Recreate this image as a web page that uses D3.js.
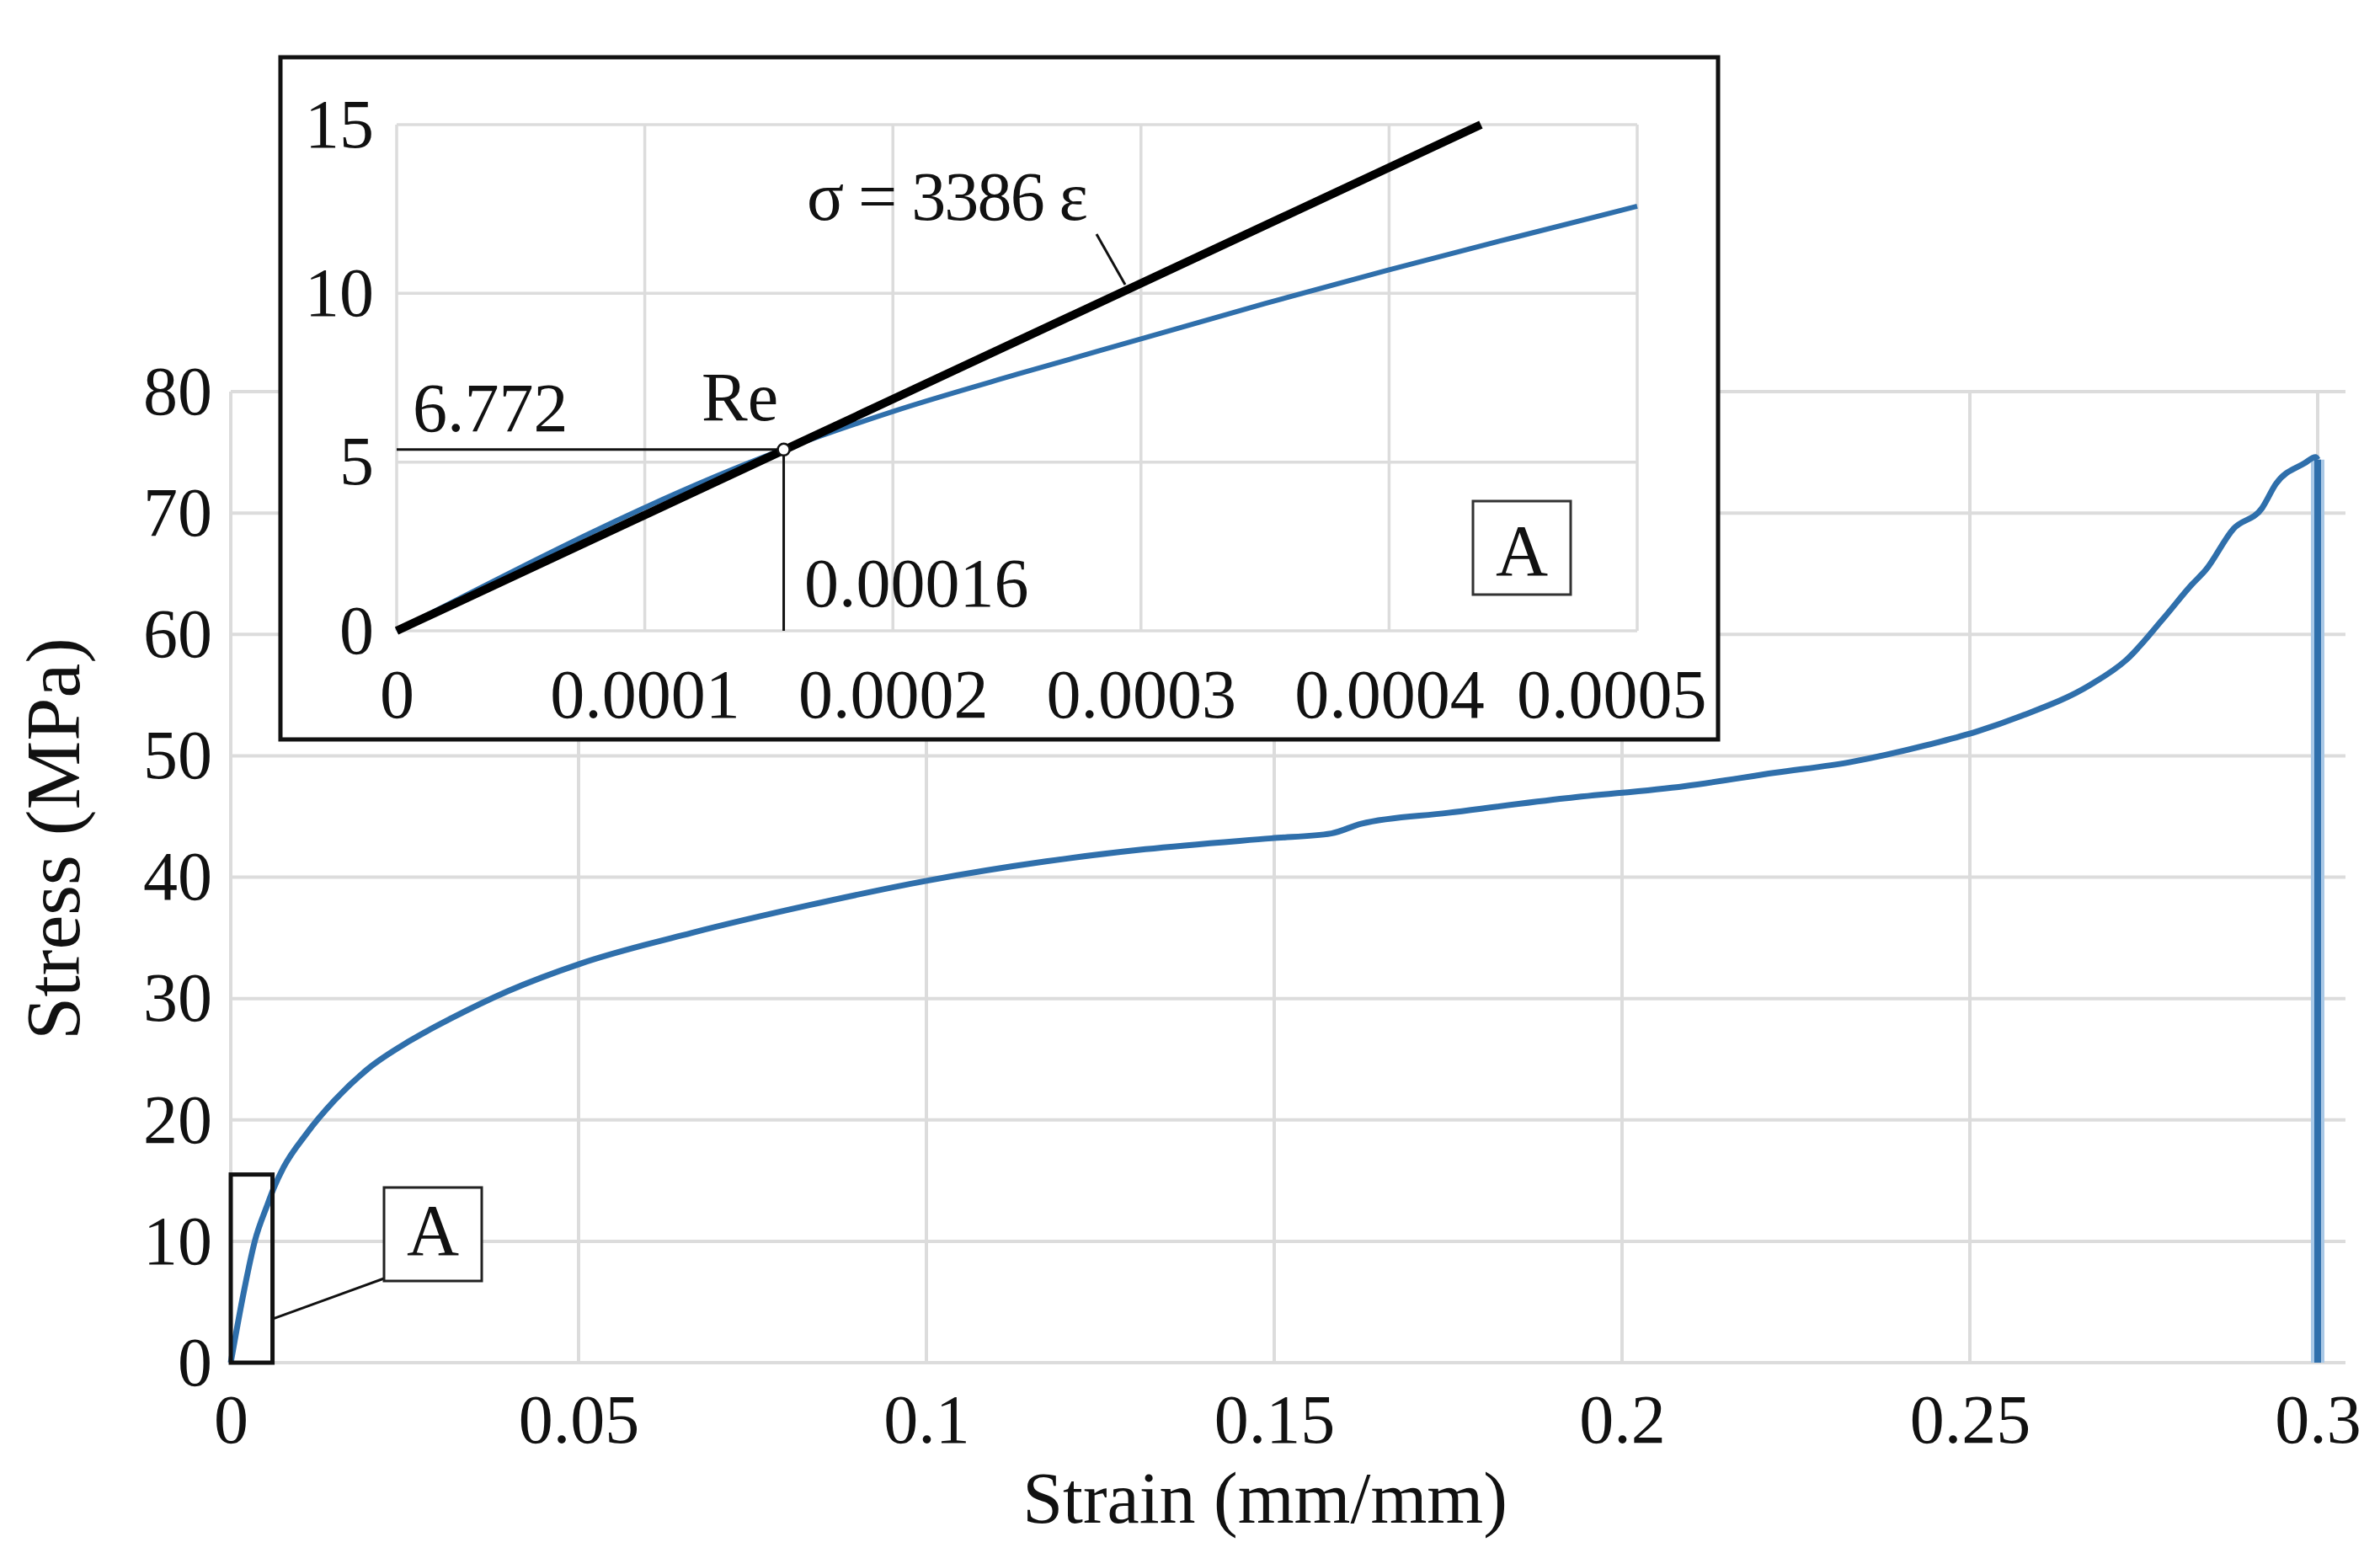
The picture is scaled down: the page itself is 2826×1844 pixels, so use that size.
<!DOCTYPE html>
<html>
<head>
<meta charset="utf-8">
<script src="https://cdn.jsdelivr.net/npm/d3@7"></script>
<style>
body { margin: 0; background: #fff; }
text { font-family: "Liberation Serif", "Times New Roman", serif; fill: #111; }
</style>
</head>
<body>
<svg width="2826" height="1844"></svg>
<script>
// main curve: strain (mm/mm), stress (MPa)
var strain = [0, 0.0019, 0.0035, 0.0052, 0.0062, 0.0076, 0.0108, 0.0149, 0.0197, 0.0257, 0.0318, 0.0398, 0.0504,
  0.0662, 0.0832, 0.1, 0.1172, 0.1315,
  0.1496, 0.1582, 0.1625, 0.175, 0.192, 0.209, 0.222, 0.233, 0.2453, 0.251, 0.2575, 0.2672, 0.2725, 0.2778,
  0.2819, 0.2839, 0.2879, 0.292, 0.294, 0.2981, 0.2997, 0.3, 0.3];
var stress = [0, 5.9, 10.1, 12.9, 14.4, 16.1, 18.8, 21.6, 24.2, 26.5, 28.4, 30.6, 32.9,
  35.4, 37.7, 39.7, 41.3, 42.3,
  43.2, 43.6, 44.4, 45.3, 46.5, 47.5, 48.6, 49.5, 51.1, 52.0, 53.3, 55.8, 57.9, 61.3,
  64.1, 65.3, 68.7, 70.4, 72.4, 74.1, 74.6, 74.4, 0];

var xTicks = [0, 0.05, 0.1, 0.15, 0.2, 0.25, 0.3];
var yTicks = [0, 10, 20, 30, 40, 50, 60, 70, 80];

// inset "A": elastic zone
var insetStrain = [0, 0.000155, 0.0002, 0.00025, 0.0003, 0.00035, 0.0004, 0.00045, 0.0005];
var insetStress = [0, 5.35, 6.5, 7.6, 8.65, 9.7, 10.7, 11.65, 12.58];
var fitStrain = [0, 0.000437];
var fitStress = [0, 15];
var rePoint = [0.000156, 5.37];
var insetXTicks = [0, 0.0001, 0.0002, 0.0003, 0.0004, 0.0005];
var insetYTicks = [0, 5, 10, 15];
var zoomBox = [0, 0.006, 0, 15.5]; // x0, x1, y0, y1 of box A on the main chart

var blue = "#2f6fab", grid = "#dcdcdc";

var svg = d3.select("svg");

// ---------- main chart ----------
var x = d3.scaleLinear().domain([0, 0.3]).range([274, 2752]);
var y = d3.scaleLinear().domain([0, 80]).range([1618, 465]);

var g = svg.append("g");

g.selectAll(".hgrid").data(yTicks).enter().append("line")
  .attr("x1", x(0)).attr("x2", 2785)
  .attr("y1", function(d) { return y(d); }).attr("y2", function(d) { return y(d); })
  .attr("stroke", grid).attr("stroke-width", 4);

g.selectAll(".vgrid").data(xTicks).enter().append("line")
  .attr("x1", function(d) { return x(d); }).attr("x2", function(d) { return x(d); })
  .attr("y1", y(80)).attr("y2", y(0))
  .attr("stroke", grid).attr("stroke-width", 4);

var xAxis = g.append("g").attr("transform", "translate(0," + y(0) + ")")
  .call(d3.axisBottom(x).tickValues(xTicks).tickFormat(function(d) { return String(d); }).tickSize(0).tickPadding(37));
var yAxis = g.append("g").attr("transform", "translate(" + x(0) + ",0)")
  .call(d3.axisLeft(y).tickValues(yTicks).tickSize(0).tickPadding(22));
[xAxis, yAxis].forEach(function(a) {
  a.select(".domain").remove();
  a.selectAll("text").attr("font-size", 82).attr("font-family", null).attr("fill", "#111");
});

var mainData = strain.map(function(s, i) { return [s, stress[i]]; });
var rise = mainData.slice(0, -1);   // up to fracture
var drop = mainData.slice(-2);      // vertical drop at fracture
var line = d3.line().x(function(d) { return x(d[0]); }).y(function(d) { return y(d[1]); });

g.append("path").datum(drop)
  .attr("d", line).attr("fill", "none")
  .attr("stroke", "#a9c8e6").attr("stroke-width", 16);
g.append("path").datum(drop)
  .attr("d", line).attr("fill", "none")
  .attr("stroke", blue).attr("stroke-width", 8);
g.append("path").datum(rise)
  .attr("d", line.curve(d3.curveMonotoneX)).attr("fill", "none")
  .attr("stroke", blue).attr("stroke-width", 7).attr("stroke-linejoin", "round");

// box A on main chart + leader + label
g.append("rect")
  .attr("x", x(zoomBox[0])).attr("y", y(zoomBox[3]))
  .attr("width", x(zoomBox[1]) - x(zoomBox[0])).attr("height", y(zoomBox[2]) - y(zoomBox[3]))
  .attr("fill", "none").attr("stroke", "#111").attr("stroke-width", 5);
g.append("line")
  .attr("x1", x(zoomBox[1])).attr("y1", y(3.6))
  .attr("x2", 456).attr("y2", 1518)
  .attr("stroke", "#111").attr("stroke-width", 3);
g.append("rect").attr("x", 456).attr("y", 1410).attr("width", 116).attr("height", 111)
  .attr("fill", "#fff").attr("stroke", "#222").attr("stroke-width", 3);
g.append("text").attr("x", 514).attr("y", 1490).attr("text-anchor", "middle")
  .attr("font-size", 86).text("A");

// axis titles
g.append("text").attr("x", 1502).attr("y", 1808).attr("text-anchor", "middle")
  .attr("font-size", 86).text("Strain (mm/mm)");
g.append("text").attr("transform", "translate(94,996) rotate(-90)").attr("text-anchor", "middle")
  .attr("font-size", 92).text("Stress (MPa)");

// ---------- inset ----------
var ins = svg.append("g");
ins.append("rect").attr("x", 333).attr("y", 68).attr("width", 1707).attr("height", 810)
  .attr("fill", "#fff").attr("stroke", "#111").attr("stroke-width", 5);

var ix = d3.scaleLinear().domain([0, 0.0005]).range([471, 1944]);
var iy = d3.scaleLinear().domain([0, 15]).range([749, 148]);

ins.selectAll(".ihgrid").data(insetYTicks).enter().append("line")
  .attr("x1", ix(0)).attr("x2", ix(0.0005))
  .attr("y1", function(d) { return iy(d); }).attr("y2", function(d) { return iy(d); })
  .attr("stroke", grid).attr("stroke-width", 3.5);
ins.selectAll(".ivgrid").data(insetXTicks).enter().append("line")
  .attr("x1", function(d) { return ix(d); }).attr("x2", function(d) { return ix(d); })
  .attr("y1", iy(15)).attr("y2", iy(0))
  .attr("stroke", grid).attr("stroke-width", 3.5);

var ixAxis = ins.append("g").attr("transform", "translate(0," + iy(0) + ")")
  .call(d3.axisBottom(ix).tickValues(insetXTicks).tickFormat(function(d) { return String(d); }).tickSize(0).tickPadding(45));
var iyAxis = ins.append("g").attr("transform", "translate(" + ix(0) + ",0)")
  .call(d3.axisLeft(iy).tickValues(insetYTicks).tickSize(0).tickPadding(27));
[ixAxis, iyAxis].forEach(function(a) {
  a.select(".domain").remove();
  a.selectAll("text").attr("font-size", 82).attr("font-family", null).attr("fill", "#111");
});
// last label pulled inside the frame
ixAxis.selectAll("text").filter(function(d) { return d === 0.0005; })
  .attr("text-anchor", "end").attr("x", 2026 - ix(0.0005));

var iline = d3.line().x(function(d) { return ix(d[0]); }).y(function(d) { return iy(d[1]); });

// Re guide lines
ins.append("line").attr("x1", ix(0)).attr("x2", ix(rePoint[0]))
  .attr("y1", iy(rePoint[1])).attr("y2", iy(rePoint[1]))
  .attr("stroke", "#111").attr("stroke-width", 3);
ins.append("line").attr("x1", ix(rePoint[0])).attr("x2", ix(rePoint[0]))
  .attr("y1", iy(rePoint[1])).attr("y2", iy(0))
  .attr("stroke", "#111").attr("stroke-width", 3);

ins.append("path").datum(insetStrain.map(function(s, i) { return [s, insetStress[i]]; }))
  .attr("d", iline.curve(d3.curveMonotoneX)).attr("fill", "none")
  .attr("stroke", blue).attr("stroke-width", 6);
ins.append("path").datum(fitStrain.map(function(s, i) { return [s, fitStress[i]]; }))
  .attr("d", d3.line().x(function(d) { return ix(d[0]); }).y(function(d) { return iy(d[1]); }))
  .attr("fill", "none").attr("stroke", "#000").attr("stroke-width", 10);

ins.append("circle").attr("cx", ix(rePoint[0])).attr("cy", iy(rePoint[1])).attr("r", 7)
  .attr("fill", "#fff").attr("stroke", "#111").attr("stroke-width", 2.5);

ins.append("text").attr("x", 490).attr("y", 512).attr("font-size", 82).text("6.772");
ins.append("text").attr("x", 833).attr("y", 499).attr("font-size", 82).text("Re");
ins.append("text").attr("x", 955).attr("y", 720).attr("font-size", 82).text("0.00016");
ins.append("text").attr("x", 958).attr("y", 261).attr("font-size", 82)
  .attr("textLength", 334).attr("lengthAdjust", "spacing").text("σ = 3386 ε");
ins.append("line").attr("x1", 1302).attr("y1", 278).attr("x2", 1336).attr("y2", 338)
  .attr("stroke", "#111").attr("stroke-width", 3);

ins.append("rect").attr("x", 1749).attr("y", 595).attr("width", 116).attr("height", 111)
  .attr("fill", "#fff").attr("stroke", "#333").attr("stroke-width", 3);
ins.append("text").attr("x", 1807).attr("y", 683).attr("text-anchor", "middle")
  .attr("font-size", 86).text("A");
</script>
</body>
</html>
